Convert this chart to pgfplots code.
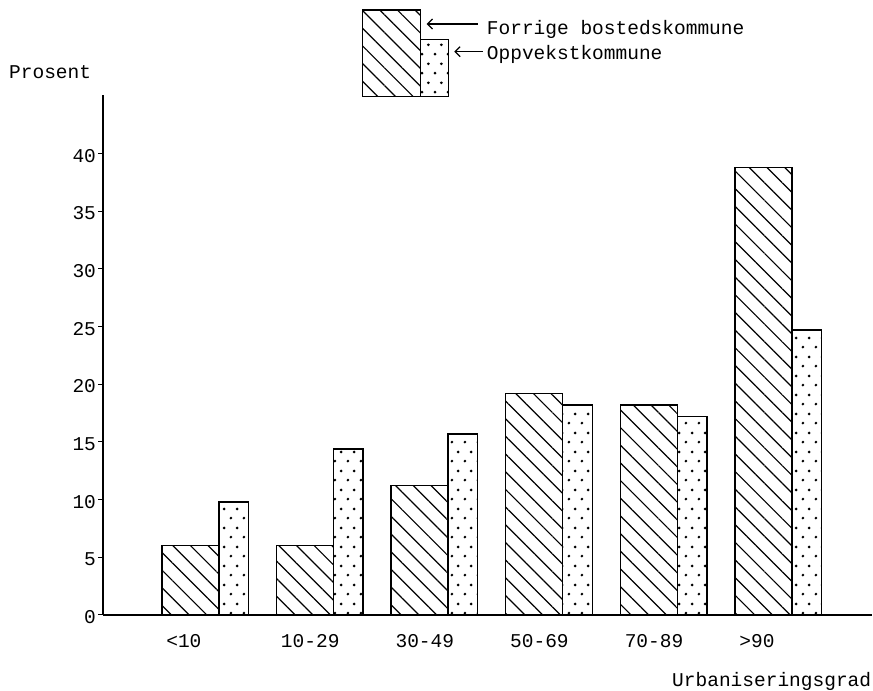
\documentclass[border=0pt]{standalone}
\usepackage{fontspec}
\setmainfont{Liberation Mono}[Ligatures=NoCommon]
\usepackage{pgfplots}
\pgfplotsset{compat=1.18}
\usetikzlibrary{patterns.meta,arrows.meta}
\pgfdeclarepatternformonly{tdots}{\pgfpointorigin}{\pgfqpoint{12.7bp}{18.6bp}}{\pgfqpoint{12.7bp}{18.6bp}}{%
  \pgfpathcircle{\pgfqpoint{3bp}{4bp}}{1.5bp}%
  \pgfpathcircle{\pgfqpoint{9.35bp}{13.3bp}}{1.5bp}%
  \pgfusepath{fill}}
\begin{document}
\fontsize{19.5bp}{23bp}\selectfont
\begin{tikzpicture}[x=1bp,y=1bp,font=\fontsize{19.5bp}{23bp}\selectfont]
\path[use as bounding box] (0,0) rectangle (873,691);
\begin{axis}[
  at={(90,66)}, anchor=south west,
  scale only axis, width=769bp, height=520bp,
  xmin=-0.89, xmax=5.82, ymin=0, ymax=45.1,
  axis x line=bottom, axis y line=left,
  axis line style={-, line width=1.3bp, black},
  xtick={0,1,2,3,4,5},
  xticklabels={<10,10-29,30-49,50-69,70-89,>90},
  xtick style={draw=none},
  ytick={0,5,10,15,20,25,30,35,40},
  tick align=outside, major tick length=5bp,
  ytick style={line width=1bp, black},
  xticklabel style={anchor=base west, inner sep=0pt, xshift=-39bp, yshift=-28bp},
  yticklabel style={anchor=east, inner sep=0pt, xshift=-2bp, yshift=-2bp},
  /pgf/number format/assume math mode=true,
  clip=false,
]
\addplot[ybar, bar width=57bp, bar shift=-14.75bp, draw=black, line width=1.4bp,
  pattern={Lines[angle=-45,distance=12.5bp,line width=1.2bp]}]
  coordinates {(0,6) (1,6) (2,11.2) (3,19.2) (4,18.2) (5,38.8)};
\addplot[ybar, bar width=29.5bp, bar shift=28.5bp, draw=black, line width=1.4bp,
  pattern=tdots]
  coordinates {(0,9.8) (1,14.4) (2,15.7) (3,18.2) (4,17.2) (5,24.7)};
\end{axis}
\node[anchor=base west, inner sep=0pt] at (672,4.3) {Urbaniseringsgrad};
\node[anchor=base west, inner sep=0pt] at (9,612) {Prosent};
% legend
\draw[line width=1.4bp, pattern={Lines[angle=-45,distance=12.5bp,line width=1.2bp]}] (362.3,594.3) rectangle (420.7,681);
\draw[line width=1.4bp, pattern=tdots] (420.7,594.3) rectangle (448.3,651.7);
\draw[line width=1.2bp, {Straight Barb[length=5bp,width=10bp]}-] (426.7,667) -- (478.3,667);
\draw[line width=1.2bp, {Straight Barb[length=5bp,width=10bp]}-] (454.3,639.3) -- (483,639.3);
\node[anchor=base west, inner sep=0pt] at (486.7,656) {Forrige bostedskommune};
\node[anchor=base west, inner sep=0pt] at (486.7,631) {Oppvekstkommune};
\end{tikzpicture}
\end{document}
